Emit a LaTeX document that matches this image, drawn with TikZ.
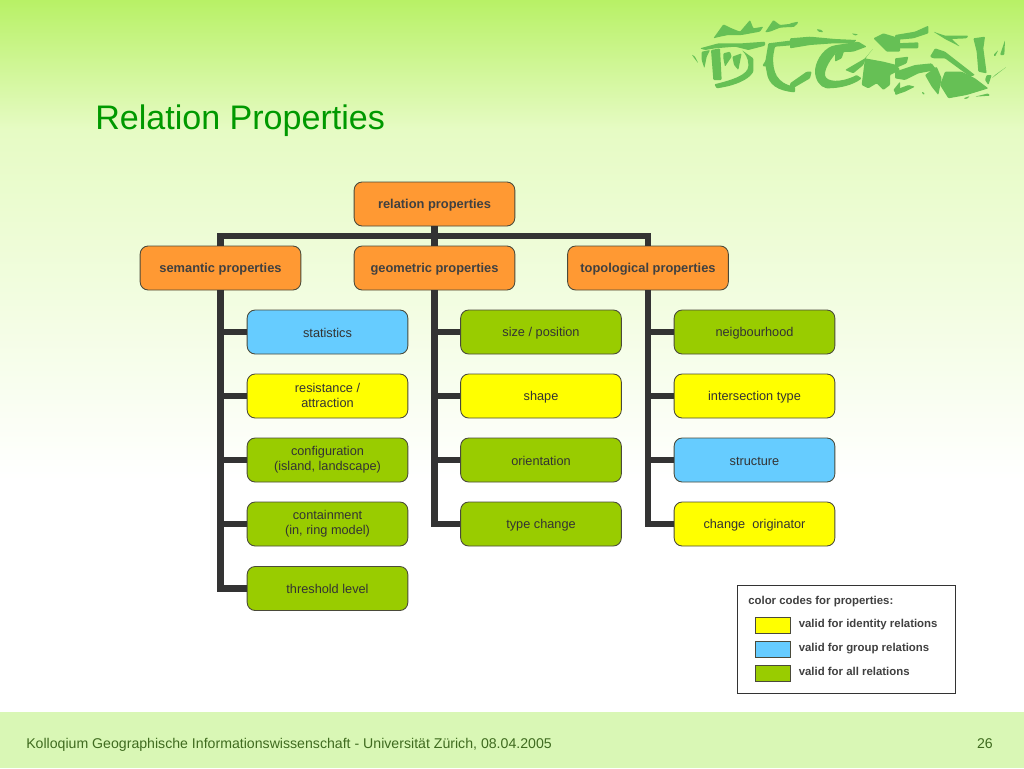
\documentclass[tikz,border=0pt]{standalone}
\usepackage{fontspec}
\setmainfont{Liberation Sans}
\definecolor{orangebox}{HTML}{FF9933}
\definecolor{bluebox}{HTML}{66CCFF}
\definecolor{yellowbox}{HTML}{FFFF00}
\definecolor{greenbox}{HTML}{99CC00}
\definecolor{barcol}{HTML}{333333}
\definecolor{edgecol}{HTML}{4A4A3A}
\definecolor{titlecol}{HTML}{009900}
\definecolor{footbg}{HTML}{D9F7B5}
\definecolor{footfg}{HTML}{3F6B1F}
\definecolor{logocol}{HTML}{66C055}
\definecolor{gtop}{HTML}{B8F166}
\definecolor{gmid}{HTML}{E6FBC4}
\definecolor{gbot}{HTML}{FFFFFF}
\tikzset{
  box/.style={draw=edgecol,line width=0.65pt,rounded corners=6pt,minimum width=120.5pt,minimum height=33pt,inner sep=0pt,align=center,font=\fontsize{9.55pt}{11.3pt}\selectfont,text=black!80,
    execute at begin node={\rule{0pt}{9pt}},execute at end node={\rule[-1.5pt]{0pt}{1.5pt}}},
  twolines/.style={execute at begin node={\rule{0pt}{10.5pt}}},
  headbox/.style={box,fill=orangebox,font=\fontsize{9.65pt}{11pt}\selectfont\bfseries,text=black!75},
  bluenode/.style={box,fill=bluebox},
  yellownode/.style={box,fill=yellowbox},
  greennode/.style={box,fill=greenbox},
  bar/.style={draw=barcol,line width=5pt,line cap=butt,line join=miter},
  swatch/.style={draw=edgecol,line width=0.6pt,minimum width=26pt,minimum height=12pt,inner sep=0pt},
  legendtext/.style={anchor=base west,font=\fontsize{8.55pt}{10pt}\selectfont\bfseries,text=black!75,inner sep=0pt},
  logopart/.style={fill=logocol,draw=none,rounded corners=0.7pt},
  logozoom/.style={x=0.25pt,y=-0.25pt}
}
\begin{document}
\begin{tikzpicture}[x=0.75pt,y=-0.75pt]
\useasboundingbox (0,0) rectangle (1024,768);
% background
\shade[top color=gtop,bottom color=gmid] (0,0) rectangle (1024,130);
\shade[top color=gmid,bottom color=gbot] (0,130) rectangle (1024,480);
\fill[gbot] (0,480) rectangle (1024,712);
\fill[footbg] (0,712) rectangle (1024,768);
% logo, left part
\begin{scope}[shift={(685,15)},logozoom]
\fill[logopart] (85,70)--(115,28)--(140,40)--(165,50)--(195,15)--(205,40)--(235,35)--(225,50)--(170,60)--(130,60)--(105,65)--cycle;
\fill[logopart] (240,52)--(265,15)--(285,30)--(330,25)--(330,35)--(285,38)--(255,50)--cycle;
\fill[logopart] (45,100)--(100,85)--(170,85)--(240,80)--(240,92)--(190,105)--(150,95)--(90,100)--(60,105)--cycle;
\fill[logopart] (20,118)--(30,125)--(40,145)--(28,130)--cycle;
\fill[logopart] (50,110)--(75,105)--(65,125)--(58,160)--(50,135)--cycle;
\fill[logopart] (78,105)--(105,100)--(110,195)--(85,195)--cycle;
\fill[logopart] (88,208) .. controls (140,195) and (190,180) .. (190,150) .. controls (190,130) and (180,115) .. (170,105) -- (205,130) -- (205,170) .. controls (190,195) and (150,212) .. (95,220) -- cycle;
\fill[logopart] (115,115)--(135,110)--(140,125)--(120,155)--(115,130)--cycle;
\fill[logopart] (142,125)--(170,115)--(160,165)--(147,150)--cycle;
\fill[logopart] (250,85)--(330,75)--(330,90)--(270,95)--(265,120) .. controls (262,170) and (275,205) .. (330,215) -- (330,232) .. controls (280,228) and (250,210) .. (245,170) -- (240,145)--cycle;
\fill[logopart] (232,152)--(262,105)--(255,150)--(240,155)--cycle;
\end{scope}
% logo, middle part
\begin{scope}[shift={(790,15)},logozoom]
\fill[logopart] (0,25)--(25,20)--(20,30)--(0,38)--cycle;
\fill[logopart] (0,70)--(60,65)--(135,72)--(200,75)--(190,85)--(130,85)--(60,90)--(0,100)--cycle;
\fill[logopart] (80,42)--(95,45)--(100,52)--(85,50)--cycle;
\fill[logopart] (185,55)--(205,58)--(195,62)--cycle;
\fill[logopart] (0,205)--(50,170)--(65,170)--(60,190)--(0,225)--cycle;
\fill[logopart] (75,165) .. controls (80,130) and (105,95) .. (140,90) -- (205,80)--(230,95)--(190,110)--(140,112) .. controls (120,135) and (105,160) .. (105,180) .. controls (110,200) and (150,205) .. (200,180) -- (215,190) .. controls (190,210) and (150,220) .. (110,220) .. controls (90,215) and (75,195) .. cycle;
\fill[logopart] (135,115)--(165,100)--(155,130)--(135,140)--cycle;
\fill[logopart] (165,165)--(225,130)--(250,100)--(230,125)--(220,150)--(190,175)--cycle;
\fill[logopart] (215,210)--(225,130)--(280,140)--(320,150)--(330,165)--(300,180)--(300,210)--(280,225)--(260,205)--(235,220)--cycle;
\fill[logopart] (250,70)--(280,55)--(330,70)--(330,110)--(290,110)--(265,85)--cycle;
\fill[logopart] (310,225)--(330,200)--(330,230)--(320,240)--cycle;
\end{scope}
% logo, right part
\begin{scope}[shift={(895,15)},logozoom]
\fill[logopart] (0,60)--(60,50)--(100,32)--(100,55)--(55,70)--(0,75)--cycle;
\fill[logopart] (0,85)--(70,82)--(70,100)--(0,100)--cycle;
\fill[logopart] (0,130)--(40,125)--(35,145)--(0,160)--cycle;
\fill[logopart] (0,170)--(60,150)--(110,145)--(125,165)--(70,175)--(30,195)--(0,190)--cycle;
\fill[logopart] (105,125)--(120,100)--(150,110)--(240,180)--(225,185)--(150,130)--(115,130)--cycle;
\fill[logopart] (115,50)--(150,62)--(220,62)--(215,70)--(170,72)--(195,95)--(150,72)--cycle;
\fill[logopart] (150,170)--(200,170)--(240,190)--(280,220)--(215,240)--(160,250)--(135,210)--cycle;
\fill[logopart] (90,180)--(125,155)--(140,190)--(130,240)--(110,215)--cycle;
\fill[logopart] (235,70)--(270,65)--(265,100)--(275,175)--(250,170)--(245,110)--cycle;
\fill[logopart] (275,180)--(290,180)--(280,210)--(270,195)--cycle;
\fill[logopart] (295,120)--(310,105)--(300,125)--cycle;
\fill[logopart] (315,120)--(330,75)--(328,120)--cycle;
\fill[logopart] (290,190)--(335,155)--(300,180)--cycle;
\fill[logopart] (205,250)--(225,243)--(215,252)--cycle;
\fill[logopart] (240,245)--(280,235)--(285,242)--cycle;
\fill[logopart] (0,225)--(40,210)--(60,215)--(30,230)--(0,240)--cycle;
\fill[logopart] (80,230)--(90,235)--(85,240)--cycle;
\end{scope}
% title
\node[anchor=west,inner sep=0pt,text=titlecol,font=\fontsize{25.55pt}{28pt}\selectfont] (title) at (95,121) {Relation Properties};
% nodes
\node[headbox] (root) at (434.5,204) {relation properties};
\node[headbox] (sem) at (220.5,268) {semantic properties};
\node[headbox] (geo) at (434.5,268) {geometric properties};
\node[headbox] (top) at (648,268) {topological properties};
\node[bluenode] (s1) at (327.5,332) {statistics};
\node[yellownode,twolines] (s2) at (327.5,396) {resistance /\\attraction};
\node[greennode,twolines] (s3) at (327.5,460) {configuration\\(island, landscape)};
\node[greennode,twolines] (s4) at (327.5,524) {containment\\(in, ring model)};
\node[greennode] (s5) at (327.5,588.5) {threshold level};
\node[greennode] (g1) at (541,332) {size / position};
\node[yellownode] (g2) at (541,396) {shape};
\node[greennode] (g3) at (541,460) {orientation};
\node[greennode] (g4) at (541,524) {type change};
\node[greennode] (t1) at (754.5,332) {neigbourhood};
\node[yellownode] (t2) at (754.5,396) {intersection type};
\node[bluenode] (t3) at (754.5,460) {structure};
\node[yellownode] (t4) at (754.5,524) {change~ originator};
% connectors
\coordinate (hbus) at (434.5,236);
\draw[bar] (root.south) -- (hbus);
\draw[bar] (sem.north) -- (sem.north |- hbus) -- (top.north |- hbus) -- (top.north);
\draw[bar] (hbus) -- (geo.north);
\draw[bar] (sem.south) -- (sem.south |- s5.west) -- (s5.west);
\draw[bar] (s1.west) -- (s1.west -| sem.south);
\draw[bar] (s2.west) -- (s2.west -| sem.south);
\draw[bar] (s3.west) -- (s3.west -| sem.south);
\draw[bar] (s4.west) -- (s4.west -| sem.south);
\draw[bar] (geo.south) -- (geo.south |- g4.west) -- (g4.west);
\draw[bar] (g1.west) -- (g1.west -| geo.south);
\draw[bar] (g2.west) -- (g2.west -| geo.south);
\draw[bar] (g3.west) -- (g3.west -| geo.south);
\draw[bar] (top.south) -- (top.south |- t4.west) -- (t4.west);
\draw[bar] (t1.west) -- (t1.west -| top.south);
\draw[bar] (t2.west) -- (t2.west -| top.south);
\draw[bar] (t3.west) -- (t3.west -| top.south);
% legend
\node[draw=black!80,fill=white,line width=0.6pt,minimum width=163pt,minimum height=81.5pt,inner sep=0pt] (legend) at (846.5,639.5) {};
\node[legendtext] (legtitle) at (748,604) {color codes for properties:};
\node[swatch,fill=yellowbox] (sw1) at (773,625.5) {};
\node[swatch,fill=bluebox] (sw2) at (773,649.5) {};
\node[swatch,fill=greenbox] (sw3) at (773,673.5) {};
\node[legendtext] (lt1) at (798.5,627.5) {valid for identity relations};
\node[legendtext] (lt2) at (798.5,651.5) {valid for group relations};
\node[legendtext] (lt3) at (798.5,675.5) {valid for all relations};
% footer
\node[anchor=base west,inner sep=0pt,text=footfg,font=\fontsize{10.6pt}{12pt}\selectfont] (foot) at (26,748) {Kolloqium Geographische Informationswissenschaft - Universität Zürich, 08.04.2005};
\node[anchor=base east,inner sep=0pt,text=footfg,font=\fontsize{10.6pt}{12pt}\selectfont] (page) at (993,748) {26};
\end{tikzpicture}
\end{document}
